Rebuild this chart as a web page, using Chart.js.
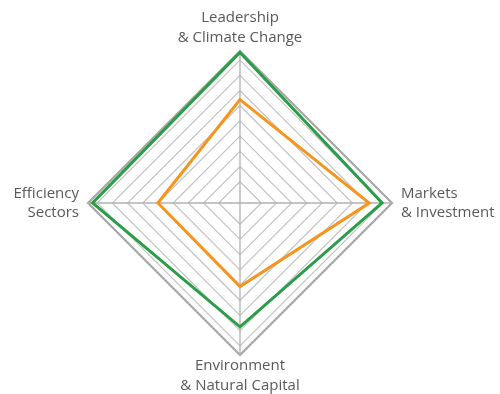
<!DOCTYPE html>
<html>
<head>
<meta charset="utf-8">
<script src="https://cdn.jsdelivr.net/npm/chart.js@4"></script>
<style>
html,body{margin:0;padding:0;background:#fff;width:500px;height:394px;overflow:hidden;position:relative;}
#wrap{position:absolute;left:-2px;top:0;width:512px;height:397px;}
</style>
</head>
<body>
<div id="wrap"><canvas id="c"></canvas></div>
<script>
const categories = [
  ["Leadership", "& Climate Change"],
  ["Markets", "& Investment"],
  ["Environment", "& Natural Capital"],
  ["Efficiency", "Sectors"]
];
const seriesGreen = [9.9, 9.35, 8.15, 9.7];
const seriesOrange = [6.8, 8.5, 5.5, 5.4];
const ringValues = [0, 1.4, 2.4, 3.4, 4.4, 5.4, 6.4, 7.4, 8.4, 9.4, 10];
const labelPadding = [4, 9, 1, 9];

new Chart(document.getElementById('c'), {
  type: 'radar',
  data: {
    labels: categories,
    datasets: [
      { data: seriesOrange, borderColor: '#f7941d', borderWidth: 3, fill: false, pointRadius: 0, pointHoverRadius: 0, borderJoinStyle: 'miter' },
      { data: seriesGreen, borderColor: '#2a9d48', borderWidth: 3, fill: false, pointRadius: 0, pointHoverRadius: 0, borderJoinStyle: 'miter' }
    ]
  },
  options: {
    responsive: true,
    maintainAspectRatio: false,
    animation: false,
    layout: { padding: { left: 0, right: 0, top: 6, bottom: 0 } },
    plugins: { legend: { display: false }, tooltip: { enabled: false } },
    scales: {
      r: {
        min: 0,
        max: 10,
        afterBuildTicks: (scale) => { scale.ticks = ringValues.map(v => ({ value: v })); },
        ticks: { display: false },
        grid: {
          color: (ctx) => ctx.index === ringValues.length - 1 ? '#a6a6a6' : '#c4c4c4',
          lineWidth: (ctx) => ctx.index === ringValues.length - 1 ? 2.2 : 1.2
        },
        angleLines: { color: '#b0b0b0', lineWidth: 1.3 },
        pointLabels: {
          color: '#595959',
          font: { family: 'Open Sans', size: 15, lineHeight: 1.3 },
          padding: (ctx) => labelPadding[ctx.index]
        }
      }
    }
  }
});
</script>
</body>
</html>
